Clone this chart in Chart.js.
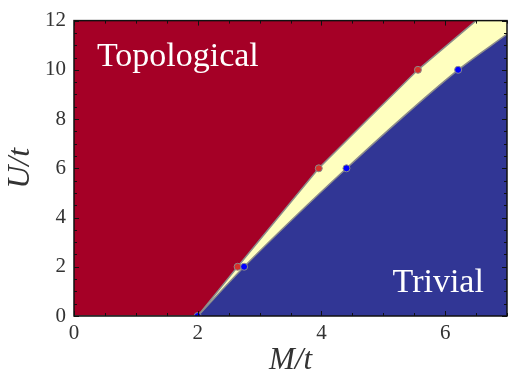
<!DOCTYPE html>
<html>
<head>
<meta charset="utf-8">
<script src="https://cdn.jsdelivr.net/npm/chart.js@4/dist/chart.umd.min.js"></script>
<style>
html, body { margin: 0; padding: 0; overflow: hidden; background: #fff; }
</style>
</head>
<body>
<canvas id="phase" width="512" height="376"></canvas>
<script>
// phase boundaries (M/t on x, U/t on y);
// the topological side also runs along U = 0 up to M = 2
var upperM = [0, 2, 2.645, 3.30, 3.957, 4.755, 5.56, 6.5];
var upperU = [0, 0, 2, 4, 6, 8, 10, 12];
var lowerM = [2, 2.75, 3.56, 4.405, 5.28, 6.21, 7];
var lowerU = [0, 2, 4, 6, 8, 10, 11.45];
// computed transition points
var redM = [2.645, 3.957, 5.56];
var redU = [2, 6, 10];
var blueM = [2, 2.75, 4.405, 6.21];
var blueU = [0, 2, 6, 10];
var xTicks = [0, 2, 4, 6];
var yTicks = [0, 2, 4, 6, 8, 10, 12];
var xMax = 7, yMax = 12;

function pts(xs, ys) {
    return xs.map(function (x, i) { return { x: x, y: ys[i] }; });
}

var serif = "'Liberation Serif', 'DejaVu Serif', serif";
var edge = '#8c8c8c';

var frameTicks = {
    id: 'frameTicks',
    afterDatasetsDraw: function (chart) {
        var c = chart.ctx, a = chart.chartArea;
        var sx = chart.scales.x, sy = chart.scales.y;
        c.save();
        c.strokeStyle = '#111';
        c.lineWidth = 1;
        var v, p, len;
        for (v = 0; v <= xMax + 1e-9; v += 0.5) {
            p = Math.round(sx.getPixelForValue(v)) + 0.5;
            len = (v % 2 === 0) ? 5 : 3;
            c.beginPath();
            c.moveTo(p, a.bottom); c.lineTo(p, a.bottom - len);
            c.moveTo(p, a.top); c.lineTo(p, a.top + len);
            c.stroke();
        }
        for (v = 0; v <= yMax + 1e-9; v += 0.5) {
            p = Math.round(sy.getPixelForValue(v)) + 0.5;
            len = (v % 2 === 0) ? 5 : 3;
            c.beginPath();
            c.moveTo(a.left, p); c.lineTo(a.left + len, p);
            c.moveTo(a.right, p); c.lineTo(a.right - len, p);
            c.stroke();
        }
        c.lineWidth = 1.5;
        c.strokeRect(a.left, a.top, a.right - a.left, a.bottom - a.top);

        c.fillStyle = '#fff';
        c.font = '34px ' + serif;
        c.textBaseline = 'alphabetic';
        c.textAlign = 'left';
        c.fillText('Topological', sx.getPixelForValue(0.37), sy.getPixelForValue(10.16));
        c.fillText('Trivial', sx.getPixelForValue(5.15), sy.getPixelForValue(0.97));
        c.restore();
    }
};

var ctx = document.getElementById('phase').getContext('2d');
var phaseChart = new Chart(ctx, {
    type: 'line',
    data: {
        datasets: [{
            // coexistence band as the background
            data: pts([0, xMax], [yMax, yMax]),
            fill: 'origin',
            backgroundColor: '#ffffbf',
            borderWidth: 0,
            pointRadius: 0,
            order: 6
        }, {
            data: pts(upperM, upperU),
            fill: 'end',
            backgroundColor: '#a50026',
            borderColor: edge,
            borderWidth: 1.5,
            tension: 0,
            pointRadius: 0,
            order: 4
        }, {
            data: pts(lowerM, lowerU),
            fill: 'origin',
            backgroundColor: '#313695',
            borderColor: edge,
            borderWidth: 1.5,
            cubicInterpolationMode: 'monotone',
            pointRadius: 0,
            order: 3
        }, {
            data: pts(redM, redU),
            showLine: false,
            pointRadius: 3.5,
            pointBackgroundColor: '#d7302a',
            pointBorderColor: edge,
            pointBorderWidth: 1,
            order: 2
        }, {
            data: pts(blueM, blueU),
            showLine: false,
            pointRadius: 3.5,
            pointBackgroundColor: '#0000ff',
            pointBorderColor: edge,
            pointBorderWidth: 1,
            order: 1
        }]
    },
    options: {
        responsive: false,
        animation: false,
        layout: { padding: { top: 16, left: 0, right: 0, bottom: 0 } },
        plugins: { legend: { display: false }, tooltip: { enabled: false } },
        scales: {
            x: {
                type: 'linear',
                min: 0,
                max: xMax,
                afterBuildTicks: function (s) { s.ticks = xTicks.map(function (v) { return { value: v }; }); },
                afterFit: function (s) { s.height = 60; },
                grid: { display: false, drawTicks: false },
                border: { display: false },
                ticks: { padding: 5, color: '#333', font: { family: serif, size: 21 } },
                title: {
                    display: true,
                    text: 'M/t',
                    color: '#333',
                    padding: 0,
                    font: { family: serif, size: 31, style: 'italic', lineHeight: 1.0 }
                }
            },
            y: {
                min: 0,
                max: yMax,
                afterBuildTicks: function (s) { s.ticks = yTicks.map(function (v) { return { value: v }; }); },
                afterFit: function (s) { s.width = 74; },
                grid: { display: false, drawTicks: false },
                border: { display: false },
                ticks: { padding: 8, color: '#333', font: { family: serif, size: 21 } },
                title: {
                    display: true,
                    text: 'U/t',
                    color: '#333',
                    padding: 5,
                    font: { family: serif, size: 32, style: 'italic', lineHeight: 1.0 }
                }
            }
        }
    },
    plugins: [frameTicks]
});
</script>
</body>
</html>
